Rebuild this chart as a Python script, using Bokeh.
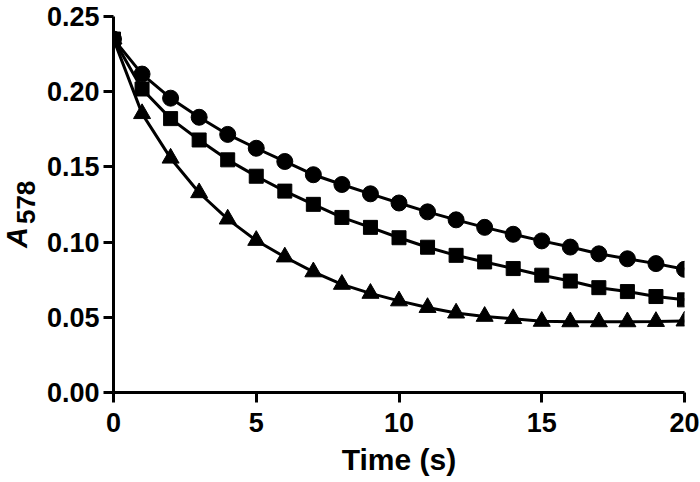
import math
from bokeh.plotting import figure
from bokeh.models import Range1d, FixedTicker
from bokeh.embed import file_html
from bokeh.resources import INLINE
from bokeh.core.properties import value

# ---- data ----
time_s = list(range(21))
a578_circles = [0.235, 0.2117, 0.1957, 0.1830, 0.1716, 0.1624, 0.1536, 0.1448, 0.1383, 0.1321,
                0.1260, 0.1201, 0.1148, 0.1098, 0.1052, 0.1008, 0.0967, 0.0922, 0.0889, 0.0857, 0.0819]
a578_squares = [0.235, 0.2018, 0.1821, 0.1679, 0.1547, 0.1438, 0.1339, 0.1251, 0.1164, 0.1098,
                0.1029, 0.0966, 0.0912, 0.0868, 0.0824, 0.0780, 0.0741, 0.0697, 0.0671, 0.0638, 0.0616]
a578_triangles = [0.235, 0.1854, 0.1558, 0.1328, 0.1153, 0.1011, 0.0901, 0.0802, 0.0719, 0.0659,
                  0.0609, 0.0565, 0.0528, 0.0506, 0.0491, 0.0473, 0.0470, 0.0470, 0.0470, 0.0472, 0.0475]

x_ticks = [0, 5, 10, 15, 20]
y_ticks = [0.0, 0.05, 0.10, 0.15, 0.20, 0.25]
y_tick_labels = ["0.00", "0.05", "0.10", "0.15", "0.20", "0.25"]
x_title = "Time (s)"
y_title_main = "A"
y_title_sub = "578"

FONT = "Liberation Sans"

p = figure(width=700, height=482, output_backend="svg", toolbar_location=None,
           x_range=Range1d(0, 20), y_range=Range1d(0, 0.25),
           min_border_left=113, min_border_right=16, min_border_top=16, min_border_bottom=90)
p.outline_line_color = None
p.grid.visible = False
p.background_fill_color = "white"
p.border_fill_color = "white"

for ax in (p.xaxis[0], p.yaxis[0]):
    ax.axis_line_width = 3
    ax.axis_line_color = "black"
    ax.major_tick_line_width = 3
    ax.major_tick_line_color = "black"
    ax.major_tick_in = 0
    ax.major_tick_out = 10
    ax.minor_tick_line_color = None
    ax.major_label_text_font = FONT
    ax.major_label_text_font_style = "bold"
    ax.major_label_text_font_size = "27px"
    ax.major_label_text_color = "black"

p.xaxis.ticker = FixedTicker(ticks=x_ticks)
p.yaxis.ticker = FixedTicker(ticks=y_ticks)
p.yaxis.major_label_overrides = {t: l for t, l in zip(y_ticks, y_tick_labels)}
p.yaxis.major_label_standoff = 4
p.xaxis.major_label_standoff = 10

p.xaxis.axis_label = x_title
p.xaxis.axis_label_text_font = FONT
p.xaxis.axis_label_text_font_style = "bold"
p.xaxis.axis_label_text_font_size = "30px"
p.xaxis.axis_label_text_color = "black"
p.xaxis.axis_label_standoff = 8

# y axis title: italic "A" with subscript "578", rotated, drawn outside the frame
p.text(x=[-3.38], y=[0.0960], text=[y_title_main], angle=math.pi / 2,
       text_align="left", text_baseline="middle", text_font=value(FONT),
       text_font_style="bold italic", text_font_size="29px", text_color="black",
       level="overlay")
p.text(x=[-3.08], y=[0.1120], text=[y_title_sub], angle=math.pi / 2,
       text_align="left", text_baseline="middle", text_font=value(FONT),
       text_font_style="bold", text_font_size="26px", text_color="black",
       level="overlay")

for ys, marker, size in ((a578_circles, "circle", 16),
                         (a578_squares, "square", 14),
                         (a578_triangles, "triangle", 17)):
    p.line(time_s, ys, line_color="black", line_width=3)
    p.scatter(time_s, ys, marker=marker, size=size, fill_color="black", line_color="black")

open("out.html", "w").write(file_html(p, INLINE))
